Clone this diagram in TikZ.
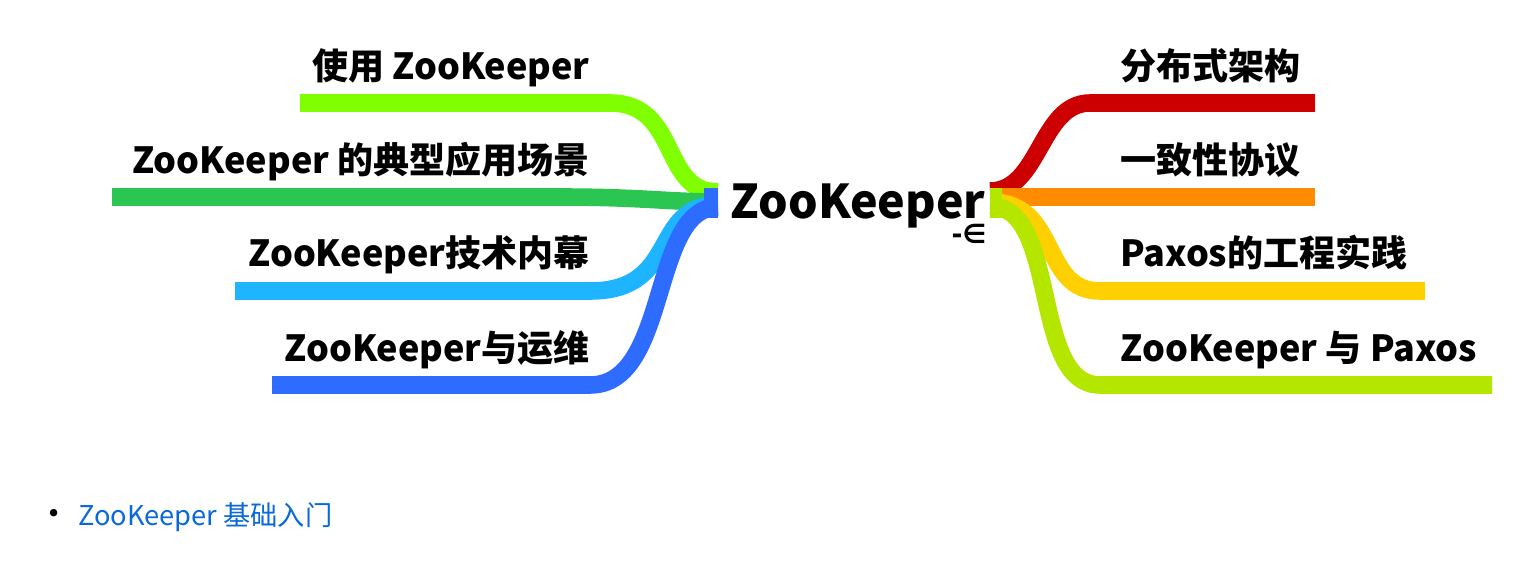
\documentclass[tikz,border=0pt]{standalone}
\usepackage{fontspec}
\setmainfont{Noto Sans CJK SC}
\newfontfamily\symfont{DejaVu Sans}
\definecolor{cA}{HTML}{80FF00}
\definecolor{cB}{HTML}{2BC651}
\definecolor{cC}{HTML}{1EB4FF}
\definecolor{cD}{HTML}{2E6BFF}
\definecolor{cE}{HTML}{CC0000}
\definecolor{cF}{HTML}{FF8C00}
\definecolor{cG}{HTML}{FFD000}
\definecolor{cH}{HTML}{B4E600}
\definecolor{linkblue}{HTML}{0969DA}
\begin{document}
\begin{tikzpicture}[x=0.02cm, y=-0.02cm,
  branch/.style={line width=10pt, line cap=butt},
  leftlab/.style={anchor=base east, font=\fontsize{20.5}{20}\selectfont\bfseries, inner sep=0pt},
  rightlab/.style={anchor=base west, font=\fontsize{20.5}{20}\selectfont\bfseries, inner sep=0pt}]
        \useasboundingbox (0,0) rectangle (1528,564);
        % Centre
        \node[anchor=base, font=\fontsize{26.5}{26}\selectfont\bfseries, inner sep=0pt] (root) at (858,219) {ZooKeeper};
        \node[anchor=base, font=\symfont\bfseries\fontsize{15}{15}\selectfont, inner sep=0pt] (fold) at (969,244) {-∈};
        \coordinate (lhub) at (718,203);
        \coordinate (rhub) at (990,203);

        % Left labels
        \node[leftlab] (l1) at (590,80) {使用 ZooKeeper};
        \node[leftlab] (l2) at (590,174) {ZooKeeper 的典型应用场景};
        \node[leftlab] (l3) at (590,267) {ZooKeeper技术内幕};
        \node[leftlab] (l4) at (590,361) {ZooKeeper与运维};

        % Right labels
        \node[rightlab] (r1) at (1120,80) {分布式架构};
        \node[rightlab] (r2) at (1120,174) {一致性协议};
        \node[rightlab] (r3) at (1120,267) {Paxos的工程实践};
        \node[rightlab] (r4) at (1120,361) {ZooKeeper 与 Paxos};

        % Left branches
        \coordinate (a1) at (300,103);
        \coordinate (a2) at (112,197);
        \coordinate (a3) at (235,291);
        \coordinate (a4) at (272,385);
        \draw[branch, cA] (a1) -- (610,103) .. controls (680,103) and (660,192) .. (718,192);
        \draw[branch, cB] (a2) -- (560,197) .. controls (640,197) and (670,202) .. (718,202);
        \draw[branch, cC] (a3) -- (590,291) .. controls (680,291) and (650,205) .. (718,205);
        \draw[branch, cD] (a4) -- (590,385) .. controls (670,385) and (650,207) .. (718,207);
        \fill[cD] (704,188) rectangle (718,218);

        % Right branches
        \coordinate (b1) at (1315,103);
        \coordinate (b2) at (1315,197);
        \coordinate (b3) at (1425,291);
        \coordinate (b4) at (1492,385);
        \draw[branch, cE] (rhub) ++(0,-12) .. controls (1040,191) and (1040,103) .. (1090,103) -- (b1);
        \draw[branch, cF] (990,197) -- (b2);
        \draw[branch, cG] (990,202) .. controls (1060,202) and (1040,291) .. (1100,291) -- (b3);
        \draw[branch, cH] (990,206) .. controls (1060,206) and (1030,385) .. (1100,385) -- (b4);
        \fill[cH] (990,188) rectangle (1002,218);

        % Footer
        \node[anchor=base, font=\fontsize{20}{20}\selectfont, inner sep=0pt] (dot) at (54,526) {•};
        \node[anchor=base west, font=\fontsize{15.5}{16}\selectfont, text=linkblue, inner sep=0pt] (link) at (78,525) {ZooKeeper 基础入门};
\end{tikzpicture}
\end{document}
